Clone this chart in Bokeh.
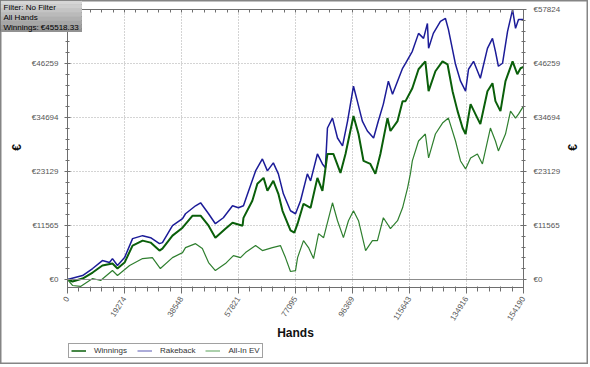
import math
from bokeh.plotting import figure
from bokeh.models import (Range1d, FixedTicker, LinearAxis, Span, Legend,
                          LegendItem, Label, BoxAnnotation)
from bokeh.embed import file_html
from bokeh.resources import INLINE

FONT = "Liberation Sans"

# ---- data ----
hands_rakeback = [0, 5100, 8500, 11800, 14200, 15200, 16900, 19300, 22000, 25400,
                  28100, 31100, 32100, 35500, 38900, 39900, 43300, 45000, 47700, 50000,
                  52700, 55800, 57800, 59500, 60900, 63600, 65900, 67600, 69600, 71300,
                  73000, 75400, 77100, 78800, 81100, 82200, 84500, 86200, 87200, 87900,
                  89600, 91300, 93000, 94700, 96700, 98000, 99700, 101400, 103500, 105100,
                  106800, 108500, 109900, 111600, 113300, 114300, 116600, 118700, 120400, 121700,
                  122100, 123700, 126100, 127800, 128800, 131200, 132900, 134600, 135600, 137300,
                  139600, 142000, 143700, 144700, 145700, 147100, 148800, 150500, 151500, 152500,
                  154190]
rakeback = [0, 850, 2350, 4050, 3630, 4480, 2990, 4690, 8750, 9390,
            8960, 7680, 7900, 11520, 13020, 14080, 15790, 16430, 14080, 11950,
            13230, 15790, 15360, 15790, 18350, 23260, 25820, 23260, 24970, 22620,
            18350, 14720, 14080, 16860, 22620, 21130, 26890, 24750, 23900, 32440,
            34570, 30300, 28600, 33930, 41400, 38200, 33930, 31800, 30300, 33930,
            37560, 42470, 39690, 42470, 45240, 46310, 48870, 52710, 51640, 54840,
            49510, 52710, 55270, 55910, 53560, 46090, 42470, 40330, 45030, 46730,
            43110, 49510, 51640, 48870, 45670, 46310, 53140, 57800, 53780, 55700,
            55700]

hands_winnings = [0, 1700, 5100, 8500, 11800, 15200, 16900, 19300, 22000, 25400,
                  28100, 31100, 32100, 35500, 38900, 42300, 45000, 47700, 50000, 53400,
                  55800, 59200, 59500, 62500, 64200, 66300, 67600, 69600, 71300, 72700,
                  75400, 76700, 77800, 79800, 82200, 84500, 86200, 87900, 89900, 92300,
                  94000, 96700, 98400, 100100, 102400, 104100, 105800, 108200, 109200, 111600,
                  113300, 114300, 116600, 118700, 121000, 122100, 124400, 126800, 128500, 130200,
                  131900, 133600, 134600, 136300, 138600, 139600, 142000, 143700, 144700, 146400,
                  148100, 150500, 152100, 153200, 154190]
winnings = [0, -430, 210, 1490, 2990, 3410, 2350, 3630, 7260, 8320,
            7900, 6190, 6620, 9390, 11100, 13660, 13660, 11520, 8960, 10880,
            12160, 11520, 13200, 16860, 20490, 21770, 18990, 21130, 18350, 14720,
            10500, 10030, 11950, 16220, 15360, 21770, 18990, 26890, 26890, 22830,
            26890, 35000, 31160, 25390, 24750, 22620, 26890, 34570, 31800, 33930,
            38200, 38200, 40970, 45030, 46730, 40330, 44600, 46730, 46090, 40330,
            36060, 32440, 31160, 37560, 34570, 33290, 40330, 42040, 38200, 36060,
            42470, 46730, 43960, 45240, 45518.33]

hands_allin = [0, 1700, 4400, 8500, 11200, 15200, 16900, 21000, 25400, 28700,
               31400, 35500, 38900, 39900, 43300, 45600, 47700, 50000, 53400, 56100,
               58500, 60200, 63600, 65900, 69300, 72000, 73700, 75400, 77100, 77800,
               79800, 81500, 83200, 84900, 86600, 89600, 91300, 93300, 95000, 96700,
               98400, 100800, 103100, 104800, 106800, 109200, 111600, 113300, 115000, 116000,
               116600, 118700, 121000, 122100, 124400, 126800, 128800, 131200, 132900, 134600,
               136300, 138600, 140300, 143000, 144700, 145700, 148100, 149800, 151500, 152500,
               154190]
allin_ev = [0, -1280, -1490, 210, -210, 1920, 850, 2990, 4480, 4690,
            2350, 4690, 5760, 6830, 7680, 6620, 3630, 1920, 3410, 5120,
            4690, 5760, 7260, 6190, 6830, 7260, 4690, 1710, 1920, 4690,
            8320, 6830, 4480, 9820, 8960, 16430, 12590, 8960, 12590, 14720,
            12590, 6190, 8320, 8320, 13230, 10880, 12590, 15360, 19630, 22830,
            25390, 29660, 31160, 26030, 31160, 33500, 34570, 29660, 25390, 23690,
            26030, 26890, 24750, 32440, 29660, 27530, 31160, 36060, 34570, 35420,
            37130]

x_ticks = [0, 19274, 38548, 57821, 77095, 96369, 115643, 134916, 154190]
y_ticks = [0, 11565, 23129, 34694, 46259, 57824]
legend_labels = ["Winnings", "Rakeback", "All-In EV"]
info_text = "Filter: No Filter\nAll Hands\nWinnings: \u20ac45518.33"
x_title = "Hands"
y_title = "\u20ac"


def minors(ticks):
    out = []
    for a, b in zip(ticks[:-1], ticks[1:]):
        out += [a + (b - a) * k / 5 for k in range(1, 5)]
    return out


x_ticker = FixedTicker(ticks=x_ticks, minor_ticks=minors(x_ticks))
y_ticker = FixedTicker(ticks=y_ticks, minor_ticks=minors(y_ticks))
top_ticker = FixedTicker(ticks=[], minor_ticks=x_ticks + minors(x_ticks))

p = figure(width=588, height=364, output_backend="svg", toolbar_location=None,
           x_range=Range1d(0, 154190), y_range=Range1d(-1713, 57824),
           min_border_left=67, min_border_right=65, min_border_top=9,
           min_border_bottom=77, background_fill_color="white",
           border_fill_color="white", outline_line_color="#6e6e6e")


def style_axis(ax, ticker):
    ax.ticker = ticker
    ax.axis_line_color = "#6e6e6e"
    ax.major_tick_line_color = "#6e6e6e"
    ax.minor_tick_line_color = "#6e6e6e"
    ax.major_label_text_font = FONT
    ax.major_label_text_font_size = "8px"
    ax.major_label_text_color = "#555555"
    ax.axis_label_text_font = FONT
    ax.axis_label_text_font_style = "bold"
    ax.axis_label_text_font_size = "12px"
    ax.axis_label_text_color = "#111111"


# bottom axis
xa = p.xaxis[0]
style_axis(xa, x_ticker)
xa.major_label_overrides = {t: str(t) for t in x_ticks}
xa.major_label_orientation = 1.0
xa.major_tick_in = 1
xa.major_tick_out = 6
xa.minor_tick_in = 1
xa.minor_tick_out = 4
xa.major_label_standoff = 4
xa.axis_label = x_title
xa.axis_label_standoff = 0

# left axis
ya = p.yaxis[0]
style_axis(ya, y_ticker)
ya.major_label_overrides = {t: "\u20ac" + str(t) for t in y_ticks}
ya.major_tick_in = 3
ya.major_tick_out = 3
ya.minor_tick_in = 2
ya.minor_tick_out = 2
ya.major_label_standoff = 6

# right axis
yr = LinearAxis()
style_axis(yr, y_ticker)
yr.major_label_overrides = {t: "\u20ac" + str(t) for t in y_ticks}
yr.major_tick_in = 3
yr.major_tick_out = 3
yr.minor_tick_in = 2
yr.minor_tick_out = 2
yr.major_label_standoff = 7
p.add_layout(yr, "right")

# top axis: ticks only (all drawn as minor ticks, so no labels)
xt = LinearAxis()
style_axis(xt, top_ticker)
xt.minor_tick_in = 3
xt.minor_tick_out = 0
xt.major_tick_in = 0
xt.major_tick_out = 0
xt.major_label_standoff = 0
p.add_layout(xt, "above")

# grids
for g, t in ((p.xgrid, x_ticker), (p.ygrid, y_ticker)):
    g.ticker = t
    g.grid_line_color = "#a8a8a8"
    g.grid_line_dash = "1 2"
    g.grid_line_width = 1

p.add_layout(Span(location=0, dimension="width", line_color="#8c8c8c", line_width=1))

# series
p.line(hands_rakeback, rakeback, line_color="#1c1c98", line_width=1.5)
p.line(hands_winnings, winnings, line_color="#0a5f0a", line_width=2.0)
p.line(hands_allin, allin_ev, line_color="#2f7f2f", line_width=1.2)


def overlay(w, h, left, top, z, **kw):
    f = figure(width=w, height=h, output_backend="svg", toolbar_location=None,
               x_range=Range1d(-3, -2), y_range=Range1d(-3, -2), min_border=0,
               x_axis_location=None, y_axis_location=None,
               styles={"position": "absolute", "left": f"{left}px",
                       "top": f"{top}px", "z-index": str(z),
                       "pointer-events": "none"}, **kw)
    f.grid.visible = False
    return f


# ---- legend ----
lg = overlay(195, 15, 68, 343, 10, background_fill_color="white",
             border_fill_color="white", outline_line_color=None)
d1 = lg.line(hands_winnings, winnings, line_color="#0a5f0a", line_width=1.5)
d2 = lg.line(hands_rakeback, rakeback, line_color="#9090cc", line_width=1.5)
d3 = lg.line(hands_allin, allin_ev, line_color="#90c090", line_width=1.5)
legend = Legend(items=[LegendItem(label=legend_labels[0], renderers=[d1]),
                       LegendItem(label=legend_labels[1], renderers=[d2]),
                       LegendItem(label=legend_labels[2], renderers=[d3])],
                location="top_left", orientation="horizontal",
                border_line_color="#444444", border_line_width=1,
                background_fill_color="white", background_fill_alpha=1,
                label_text_font=FONT, label_text_font_size="8px",
                label_text_color="#333333", glyph_width=15, glyph_height=9,
                label_height=9, label_standoff=8, spacing=10, padding=2,
                margin=0)
lg.add_layout(legend, "center")

# ---- info box over the top-left corner ----
info = overlay(82, 32, 0, 0, 10, background_fill_color="#b4b4b4",
               border_fill_color="#b4b4b4", outline_line_color="#6a6a6a")
info.y_range = Range1d(0, 32)
shades = ["#929292", "#9c9c9c", "#a6a6a6", "#b0b0b0",
          "#bababa", "#c4c4c4", "#cecece", "#d6d6d6"]
for i, c in enumerate(shades):
    info.add_layout(BoxAnnotation(bottom=i * 4, top=(i + 1) * 4, fill_color=c,
                                  fill_alpha=1, line_color=None, level="underlay"))
info.add_layout(Label(x=3, y=30, x_units="screen", y_units="screen",
                      text=info_text, text_font=FONT, text_font_size="8px",
                      text_color="black", text_align="left",
                      text_baseline="top", text_line_height=1.15))

# ---- vertical axis titles (both rotated the same way, as in the original) ----
titles = []
for cx in (16, 572):
    t = overlay(20, 24, cx - 10, 135, 6, background_fill_alpha=0,
                border_fill_alpha=0, outline_line_color=None)
    t.add_layout(Label(x=10, y=12, x_units="screen", y_units="screen",
                       text=y_title, angle=math.pi / 2, text_font=FONT,
                       text_font_size="12px", text_font_style="bold",
                       text_color="#111111", text_align="center",
                       text_baseline="middle"))
    titles.append(t)

# ---- outer frame around the whole picture ----
frame = overlay(588, 364, 0, 0, 5, background_fill_alpha=0,
                border_fill_alpha=0, outline_line_color="#858585",
                outline_line_width=2)

open("out.html", "w").write(file_html([p, lg, frame, info] + titles, INLINE))
